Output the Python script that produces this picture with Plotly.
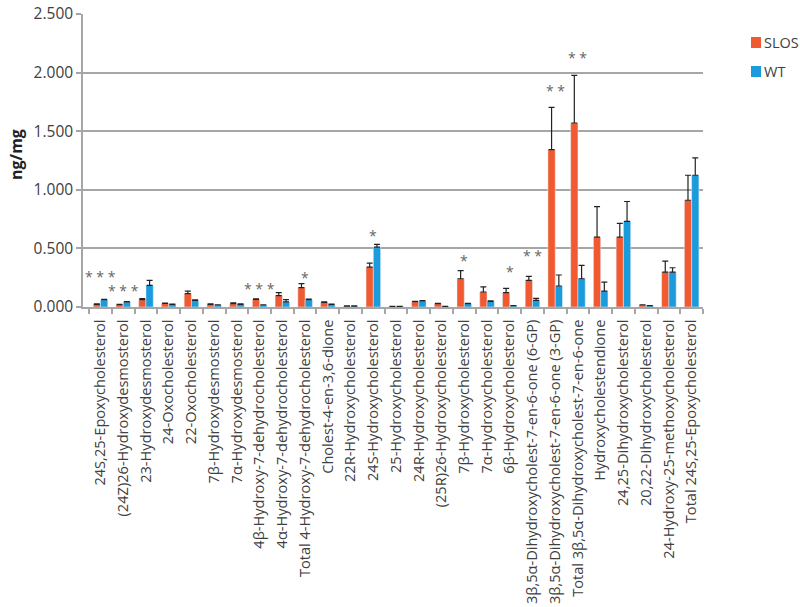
import plotly.graph_objects as go

categories = [
    "24S,25-Epoxycholesterol",
    "(24Z)26-Hydroxydesmosterol",
    "23-Hydroxydesmosterol",
    "24-Oxocholesterol",
    "22-Oxocholesterol",
    "7β-Hydroxydesmosterol",
    "7α-Hydroxydesmosterol",
    "4β-Hydroxy-7-dehydrocholesterol",
    "4α-Hydroxy-7-dehydrocholesterol",
    "Total 4-Hydroxy-7-dehydrocholesterol",
    "Cholest-4-en-3,6-dione",
    "22R-Hydroxycholesterol",
    "24S-Hydroxycholesterol",
    "25-Hydroxycholesterol",
    "24R-Hydroxycholesterol",
    "(25R)26-Hydroxycholesterol",
    "7β-Hydroxycholesterol",
    "7α-Hydroxycholesterol",
    "6β-Hydroxycholesterol",
    "3β,5α-Dihydroxycholest-7-en-6-one (6-GP)",
    "3β,5α-Dihydroxycholest-7-en-6-one (3-GP)",
    "Total 3β,5α-Dihydroxycholest-7-en-6-one",
    "Hydroxycholestendione",
    "24,25-Dihydroxycholesterol",
    "20,22-Dihydroxycholesterol",
    "24-Hydroxy-25-methoxycholesterol",
    "Total 24S,25-Epoxycholesterol",
]

slos = [0.023, 0.020, 0.062, 0.031, 0.114, 0.023, 0.028, 0.065, 0.097, 0.165,
        0.040, 0.008, 0.341, 0.005, 0.045, 0.028, 0.241, 0.128, 0.122, 0.227,
        1.343, 1.570, 0.596, 0.596, 0.017, 0.298, 0.911]
slos_err = [0.003, 0.002, 0.010, 0.003, 0.022, 0.003, 0.008, 0.004, 0.025, 0.034,
            0.004, 0.001, 0.034, 0.001, 0.004, 0.003, 0.070, 0.043, 0.037, 0.034,
            0.360, 0.406, 0.260, 0.117, 0.002, 0.094, 0.213]
wt = [0.062, 0.043, 0.185, 0.023, 0.057, 0.017, 0.023, 0.017, 0.043, 0.062,
      0.023, 0.008, 0.511, 0.005, 0.051, 0.005, 0.028, 0.048, 0.011, 0.057,
      0.179, 0.241, 0.136, 0.730, 0.011, 0.298, 1.124]
wt_err = [0.004, 0.003, 0.042, 0.002, 0.004, 0.002, 0.003, 0.002, 0.020, 0.005,
          0.002, 0.001, 0.023, 0.001, 0.004, 0.001, 0.003, 0.005, 0.002, 0.017,
          0.094, 0.114, 0.077, 0.170, 0.002, 0.037, 0.148]

sig_labels = {
    "24S,25-Epoxycholesterol": ("* * *", 0.26),
    "(24Z)26-Hydroxydesmosterol": ("* * *", 0.145),
    "4β-Hydroxy-7-dehydrocholesterol": ("* * *", 0.16),
    "Total 4-Hydroxy-7-dehydrocholesterol": ("*", 0.255),
    "24S-Hydroxycholesterol": ("*", 0.61),
    "7β-Hydroxycholesterol": ("*", 0.40),
    "6β-Hydroxycholesterol": ("*", 0.30),
    "3β,5α-Dihydroxycholest-7-en-6-one (6-GP)": ("* *", 0.44),
    "3β,5α-Dihydroxycholest-7-en-6-one (3-GP)": ("* *", 1.85),
    "Total 3β,5α-Dihydroxycholest-7-en-6-one": ("* *", 2.13),
}

y_ticks = [0.0, 0.5, 1.0, 1.5, 2.0, 2.5]
series_names = ["SLOS", "WT"]

SLOS_COLOR = "#F15A31"
WT_COLOR = "#1B9BDB"
FONT = "Open Sans"
TEXT_COLOR = "#404040"

# figure geometry (page body margin removed via post_script)
W, H = 800, 607
ML, MR, MT, MB = 83, 97, 14, 300
PW, PH = W - ML - MR, H - MT - MB


def px_x(px):
    return (px - ML) / PW


def px_y(py):
    return (H - MB - py) / PH


fig = go.Figure()
fig.add_trace(go.Bar(
    name=series_names[0], x=categories, y=slos, marker_color=SLOS_COLOR,
    error_y=dict(type="data", array=slos_err, symmetric=False, arrayminus=[0] * len(slos),
                 color="#222222", thickness=1.2, width=3),
))
fig.add_trace(go.Bar(
    name=series_names[1], x=categories, y=wt, marker_color=WT_COLOR,
    error_y=dict(type="data", array=wt_err, symmetric=False, arrayminus=[0] * len(wt),
                 color="#222222", thickness=1.2, width=3),
))

for cat, (txt, yv) in sig_labels.items():
    fig.add_annotation(x=cat, y=yv, text=txt, showarrow=False,
                       font=dict(family=FONT, size=14, color="#666666"),
                       yanchor="middle", xanchor="center")

# legend drawn manually to match the compact swatch/text spacing
for i, (name, col) in enumerate(zip(series_names, [SLOS_COLOR, WT_COLOR])):
    top = 37 + i * 29
    fig.add_shape(type="rect", xref="paper", yref="paper",
                  x0=px_x(751), x1=px_x(761), y0=px_y(top + 11), y1=px_y(top),
                  fillcolor=col, line=dict(width=0))
    fig.add_annotation(xref="paper", yref="paper", x=px_x(762), y=px_y(top + 5.5),
                       text=name, showarrow=False, xanchor="left", yanchor="middle",
                       font=dict(family=FONT, size=14.5, color=TEXT_COLOR))

# y-axis title
fig.add_annotation(xref="paper", yref="paper", x=px_x(16), y=px_y(155), text="<b>ng/mg</b>",
                   textangle=-90, showarrow=False, xanchor="center", yanchor="middle",
                   font=dict(family=FONT, size=16, color="#222222"))

fig.update_layout(
    width=W, height=H,
    margin=dict(l=ML, r=MR, t=MT, b=MB, autoexpand=False),
    paper_bgcolor="white", plot_bgcolor="white",
    barmode="group", bargap=0.36, bargroupgap=0.0,
    font=dict(family=FONT, color=TEXT_COLOR),
    showlegend=False,
)
fig.update_xaxes(
    type="category", tickangle=-90, tickfont=dict(family=FONT, size=14.6, color=TEXT_COLOR),
    automargin=False, ticklabelstandoff=5,
    showline=True, linecolor="#A6A6A6", linewidth=1.5,
    ticks="outside", tickson="boundaries", ticklen=5, tickcolor="#A6A6A6", tickwidth=1.5,
    showgrid=False,
)
fig.update_yaxes(
    range=[0, 2.5], tickvals=y_ticks, tickformat=".3f",
    automargin=False, ticklabeloverflow="allow",
    tickfont=dict(family=FONT, size=15.5, color=TEXT_COLOR),
    showgrid=True, gridcolor="#A6A6A6", gridwidth=1.5,
    showline=True, linecolor="#A6A6A6", linewidth=1.5,
    ticks="outside", ticklen=5, tickcolor="#A6A6A6", tickwidth=1.5,
    zeroline=False,
)

fig.write_html(
    "out.html",
    config={"displayModeBar": False},
    post_script="document.body.style.margin='0';document.body.style.overflow='hidden';",
)
